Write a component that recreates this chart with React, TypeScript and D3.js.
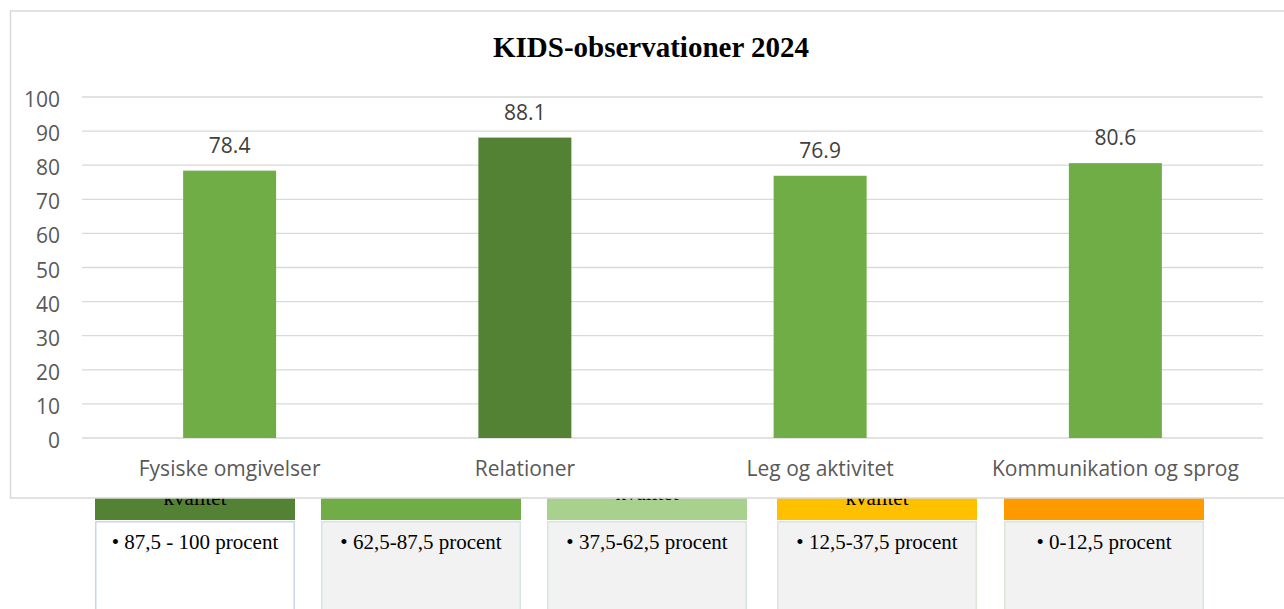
import * as d3 from "d3";

const W = 1284;
const H = 609;

const categories = ["Fysiske omgivelser", "Relationer", "Leg og aktivitet", "Kommunikation og sprog"];
const values = [78.4, 88.1, 76.9, 80.6];
const barColors = ["#70ad47", "#548235", "#70ad47", "#70ad47"];
const yTicks = [0, 10, 20, 30, 40, 50, 60, 70, 80, 90, 100];

// legend boxes sitting under the chart (their headers are partly hidden)
const legendRanges = ["• 87,5 - 100 procent", "• 62,5-87,5 procent", "• 37,5-62,5 procent", "• 12,5-37,5 procent", "• 0-12,5 procent"];
const legendHeaderColors = ["#548235", "#70ad47", "#a9d18e", "#ffc000", "#ff9900"];
const legendHeaderText = ["kvalitet", "", "kvalitet", "kvalitet", ""];
const legendBoxFill = ["#ffffff", "#f2f2f2", "#f2f2f2", "#f2f2f2", "#f2f2f2"];
const legendBoxStroke = ["#c9d5ea", "#d5e4e4", "#d5e6e0", "#dbe6da", "#dbe6da"];
const legendX = [95, 321, 547, 777, 1004];

const MARGIN = { top: 97, left: 82, right: 1263, bottom: 438 };

export default function App() {
  const x = d3.scaleBand<string>().domain(categories).range([MARGIN.left, MARGIN.right]).padding(0);
  const y = d3.scaleLinear().domain([0, 100]).range([MARGIN.bottom, MARGIN.top]);
  const barW = x.bandwidth() * 0.315;
  const sans = "'Open Sans', 'DejaVu Sans', sans-serif";
  const serif = "'Liberation Serif', 'Times New Roman', serif";

  return (
    <div style={{ position: "fixed", left: 0, top: 0 }}>
      <svg width={W} height={H} style={{ display: "block", background: "#fff" }}>
        {/* legend boxes */}
        {legendRanges.map((t, i) => {
          const lx = legendX[i];
          return (
            <g key={t}>
              <rect x={lx} y={470} width={200} height={50} fill={legendHeaderColors[i]} />
              <text x={lx + 100} y={i === 2 ? 500 : 505} textAnchor="middle" fontFamily={serif} fontSize={21} fill="#000">
                {legendHeaderText[i]}
              </text>
              <rect x={lx + 0.75} y={521.75} width={198.5} height={100} fill={legendBoxFill[i]} stroke={legendBoxStroke[i]} strokeWidth={1.5} />
              <text x={lx + 100} y={549} textAnchor="middle" fontFamily={serif} fontSize={21} fill="#000">
                {t}
              </text>
            </g>
          );
        })}

        {/* chart area */}
        <rect x={10.5} y={11} width={1290} height={487} fill="#fff" stroke="#d9d9d9" strokeWidth={1.5} />

        <text x={651} y={57} textAnchor="middle" fontFamily={serif} fontWeight="bold" fontSize={29} fill="#000">
          KIDS-observationer 2024
        </text>

        {yTicks.map((t) => (
          <g key={t}>
            <line x1={MARGIN.left} x2={MARGIN.right} y1={y(t)} y2={y(t)} stroke="#d9d9d9" strokeWidth={1.3} />
            <text x={60} y={y(t) + 10} textAnchor="end" fontFamily={sans} fontSize={21} fill="#595959">
              {t}
            </text>
          </g>
        ))}

        {categories.map((c, i) => {
          const cx = (x(c) ?? 0) + x.bandwidth() / 2;
          return (
            <g key={c}>
              <rect x={cx - barW / 2} y={y(values[i])} width={barW} height={y(0) - y(values[i])} fill={barColors[i]} />
              <text x={cx} y={y(values[i]) - 18} textAnchor="middle" fontFamily={sans} fontSize={21} fill="#404040">
                {values[i].toFixed(1)}
              </text>
              <text x={cx} y={476} textAnchor="middle" fontFamily={sans} fontSize={21} fill="#595959">
                {c}
              </text>
            </g>
          );
        })}
      </svg>
    </div>
  );
}
